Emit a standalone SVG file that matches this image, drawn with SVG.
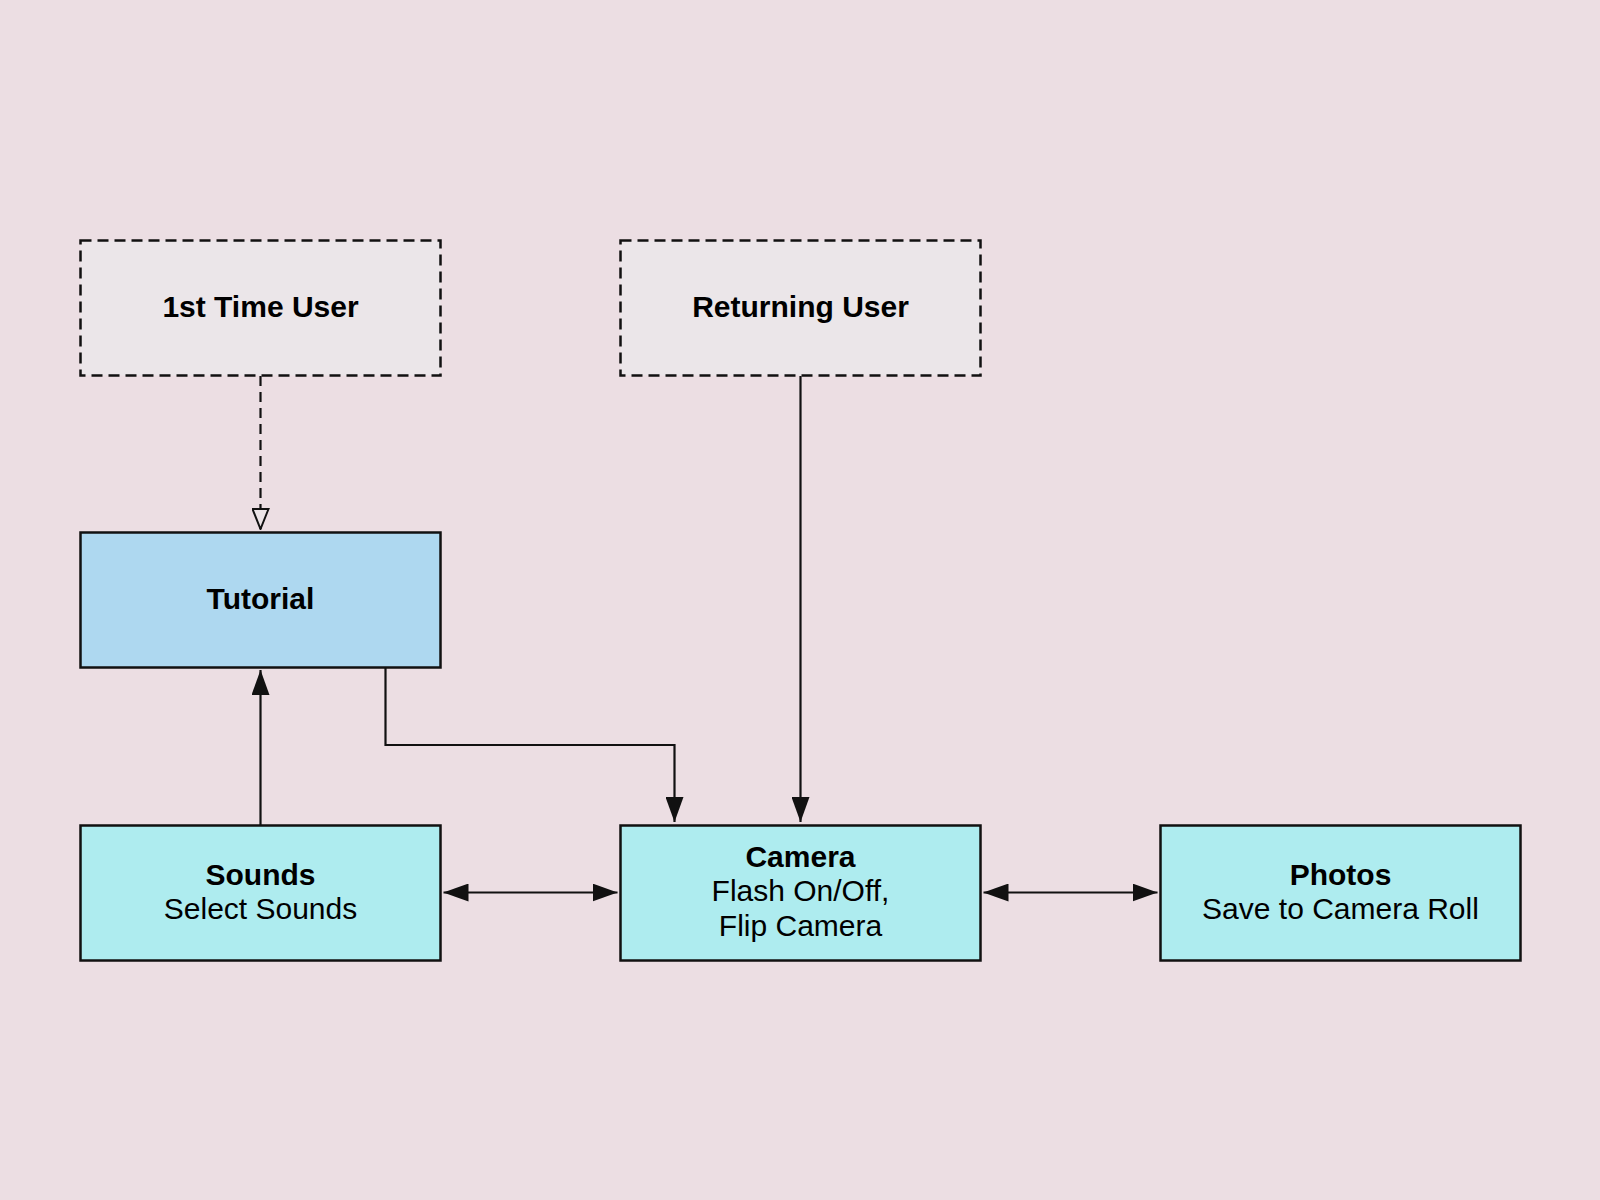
<svg xmlns="http://www.w3.org/2000/svg" width="1600" height="1200" viewBox="0 0 1600 1200">
<style>
.box{stroke:#111;stroke-width:2.5}
.dash{fill:#ebe6e9;stroke-dasharray:11 6}
.tut{fill:#aed8f0}
.cyan{fill:#aeecef}
text{font-family:"Liberation Sans",Arial,Helvetica,sans-serif;font-size:30px;fill:#000;text-anchor:middle}
.b{font-weight:bold}
.conn{fill:none;stroke:#111;stroke-width:2.2}
</style>
<defs>
<marker id="ah" viewBox="0 0 25 18" refX="25" refY="9" markerWidth="25" markerHeight="18" markerUnits="userSpaceOnUse" orient="auto-start-reverse">
<path d="M0,0 L25,9 L0,18 Z" fill="#111"/>
</marker>
<marker id="open" viewBox="0 0 22 18" refX="21" refY="9" markerWidth="22" markerHeight="18" markerUnits="userSpaceOnUse" orient="auto">
<path d="M1,1 L21,9 L1,17 Z" fill="#ebe3e6" stroke="#111" stroke-width="2"/>
</marker>
</defs>
<rect width="1600" height="1200" fill="#ecdee3"/>
<g id="n1st">
<rect class="box dash" x="80.5" y="240.5" width="360" height="135"/>
<text class="b" x="260.5" y="317">1st Time User</text>
</g>
<g id="nReturning">
<rect class="box dash" x="620.5" y="240.5" width="360" height="135"/>
<text class="b" x="800.5" y="317">Returning User</text>
</g>
<g id="nTutorial">
<rect class="box tut" x="80.5" y="532.5" width="360" height="135"/>
<text class="b" x="260.5" y="609">Tutorial</text>
</g>
<g id="nSounds">
<rect class="box cyan" x="80.5" y="825.5" width="360" height="135"/>
<text class="b" x="260.5" y="884.5">Sounds</text>
<text x="260.5" y="919">Select Sounds</text>
</g>
<g id="nCamera">
<rect class="box cyan" x="620.5" y="825.5" width="360" height="135"/>
<text class="b" x="800.5" y="867">Camera</text>
<text x="800.5" y="901">Flash On/Off,</text>
<text x="800.5" y="935.5">Flip Camera</text>
</g>
<g id="nPhotos">
<rect class="box cyan" x="1160.5" y="825.5" width="360" height="135"/>
<text class="b" x="1340.5" y="884.5">Photos</text>
<text x="1340.5" y="919">Save to Camera Roll</text>
</g>
<g id="connectors">
<path class="conn" d="M260.5,376 L260.5,529" stroke-dasharray="10 6" marker-end="url(#open)"/>
<path class="conn" d="M800.5,376 L800.5,822" marker-end="url(#ah)"/>
<path class="conn" d="M385.5,668 L385.5,745 L674.5,745 L674.5,822" marker-end="url(#ah)"/>
<path class="conn" d="M260.5,825 L260.5,670" marker-end="url(#ah)"/>
<path class="conn" d="M443.5,892.5 L617.5,892.5" marker-start="url(#ah)" marker-end="url(#ah)"/>
<path class="conn" d="M983.5,892.5 L1157.5,892.5" marker-start="url(#ah)" marker-end="url(#ah)"/>
</g>
</svg>
